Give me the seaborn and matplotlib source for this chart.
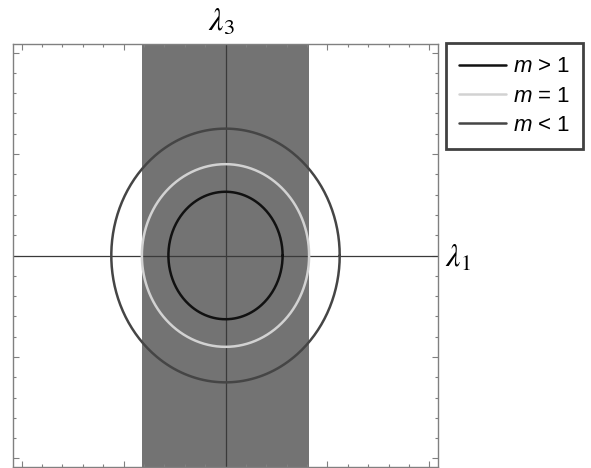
import numpy as np
import pandas as pd
import matplotlib
matplotlib.use("Agg")
import matplotlib.pyplot as plt
import seaborn as sns
from matplotlib.lines import Line2D
from matplotlib.ticker import MultipleLocator

# ---- data ----
labels = ["m > 1", "m = 1", "m < 1"]
semi_x = [0.28, 0.41, 0.56]      # semi-axis along lambda_1
semi_y = [0.314, 0.45, 0.625]    # semi-axis along lambda_3
colors = ["#111111", "#d2d2d2", "#454545"]
band_half_width = 0.41
lim = 1.042

sns.set_style("white")
plt.rcParams["font.family"] = ["Liberation Sans", "DejaVu Sans"]
plt.rcParams["mathtext.fontset"] = "custom"
plt.rcParams["mathtext.it"] = "Liberation Sans:italic"
plt.rcParams["mathtext.rm"] = "Liberation Sans"
plt.rcParams["text.color"] = "black"

fig = plt.figure(figsize=(5.91, 4.68), dpi=100)
ax = fig.add_axes([13/591, 1/468, 425/591, 423/468])

# shaded band
ax.axvspan(-band_half_width, band_half_width, color="#737373", lw=0, zorder=0)

# axes lines
ax.axhline(0, color="#3a3a3a", lw=0.9, zorder=1)
ax.axvline(0, color="#3a3a3a", lw=0.9, zorder=1)

# ellipses
t = np.linspace(0, 2 * np.pi, 361)
frames = []
for lab, a, b in zip(labels, semi_x, semi_y):
    frames.append(pd.DataFrame({"x": a * np.cos(t), "y": b * np.sin(t),
                                "m": lab, "order": np.arange(len(t))}))
df = pd.concat(frames, ignore_index=True)
sns.lineplot(data=df, x="x", y="y", hue="m", palette=dict(zip(labels, colors)),
             sort=False, estimator=None, units="m", lw=1.8, ax=ax, legend=False,
             zorder=2)

ax.set_xlim(-lim, lim)
ax.set_ylim(-lim, lim)
ax.set_xlabel("")
ax.set_ylabel("")
for s in ax.spines.values():
    s.set_color("#808080")
    s.set_linewidth(1.0)
ax.xaxis.set_major_locator(MultipleLocator(0.5))
ax.xaxis.set_minor_locator(MultipleLocator(0.1))
ax.yaxis.set_major_locator(MultipleLocator(0.5))
ax.yaxis.set_minor_locator(MultipleLocator(0.1))
ax.tick_params(which="both", direction="in", top=True, right=True, bottom=True,
               left=True, labelbottom=False, labelleft=False, color="#808080",
               width=0.8)
ax.tick_params(which="major", length=4)
ax.tick_params(which="minor", length=2.5)

# axis labels
fig.text(221/591, 1 - 23/468, r"$\lambda_3$", ha="center", va="center",
         fontsize=23, math_fontfamily="stix", color="black")
fig.text(445/591, 1 - 259/468, r"$\lambda_1$", ha="left", va="center",
         fontsize=23, math_fontfamily="stix", color="black")

# legend
handles = [Line2D([], [], color=c, lw=1.8) for c in colors]
leg_labels = [r"$m$ > 1", r"$m$ = 1", r"$m$ < 1"]
leg = fig.legend(handles, leg_labels, loc="upper left",
                 bbox_to_anchor=(446/591, 1 - 43/468), bbox_transform=fig.transFigure,
                 borderaxespad=0, fontsize=16, frameon=True, fancybox=False,
                 handlelength=2.1, handletextpad=0.3, labelspacing=0.37,
                 borderpad=0.6, labelcolor="black")
leg.get_frame().set_edgecolor("#111111")
leg.get_frame().set_linewidth(2.0)

fig.savefig("out.png", dpi=100)
